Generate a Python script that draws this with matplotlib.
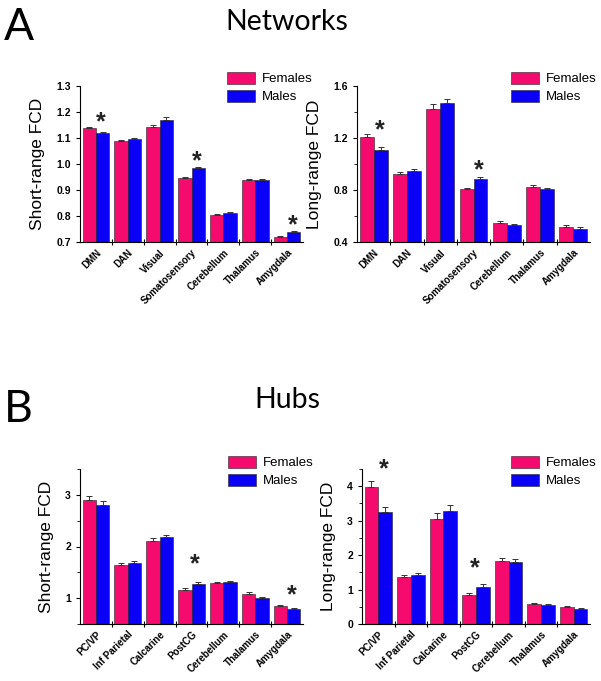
import matplotlib.pyplot as plt
import numpy as np
from matplotlib.ticker import MultipleLocator, FormatStrFormatter

plt.rcParams['font.family'] = ['Liberation Sans', 'DejaVu Sans']

net_labels = ['DMN', 'DAN', 'Visual', 'Somatosensory', 'Cerebellum', 'Thalamus', 'Amygdala']
hub_labels = ['PC/VP', 'Inf Parietal', 'Calcarine', 'PostCG', 'Cerebellum', 'Thalamus', 'Amygdala']

# Networks, short-range FCD
net_sr_f = [1.138, 1.088, 1.142, 0.946, 0.803, 0.937, 0.719]
net_sr_m = [1.118, 1.096, 1.170, 0.985, 0.811, 0.938, 0.740]
net_sr_fe = [0.004, 0.004, 0.009, 0.004, 0.005, 0.004, 0.004]
net_sr_me = [0.005, 0.004, 0.010, 0.005, 0.005, 0.004, 0.004]
# Networks, long-range FCD
net_lr_f = [1.208, 0.926, 1.426, 0.806, 0.546, 0.823, 0.515]
net_lr_m = [1.110, 0.949, 1.467, 0.887, 0.528, 0.805, 0.502]
net_lr_fe = [0.020, 0.012, 0.035, 0.012, 0.012, 0.012, 0.012]
net_lr_me = [0.020, 0.012, 0.035, 0.013, 0.013, 0.010, 0.015]
# Hubs, short-range FCD
hub_sr_f = [2.90, 1.65, 2.11, 1.16, 1.30, 1.08, 0.85]
hub_sr_m = [2.80, 1.68, 2.175, 1.27, 1.305, 1.00, 0.80]
hub_sr_fe = [0.08, 0.03, 0.05, 0.03, 0.02, 0.03, 0.01]
hub_sr_me = [0.08, 0.03, 0.05, 0.04, 0.02, 0.03, 0.01]
# Hubs, long-range FCD
hub_lr_f = [3.97, 1.375, 3.06, 0.84, 1.84, 0.58, 0.50]
hub_lr_m = [3.24, 1.433, 3.29, 1.085, 1.80, 0.54, 0.445]
hub_lr_fe = [0.17, 0.05, 0.15, 0.07, 0.07, 0.03, 0.02]
hub_lr_me = [0.15, 0.05, 0.17, 0.08, 0.08, 0.04, 0.02]

# significance stars: (category index, x offset, y)
net_sr_stars = [(0, 0.15, 1.16), (3, 0.15, 1.009), (6, 0.17, 0.765)]
net_lr_stars = [(0, 0.17, 1.26), (3, 0.15, 0.954)]
hub_sr_stars = [(3, 0.1, 1.66), (6, 0.16, 1.06)]
hub_lr_stars = [(0, 0.16, 4.48), (3, -0.03, 1.63)]

PINK = '#F50A6E'
BLUE = '#0A00F5'

W, H = 601, 681
fig = plt.figure(figsize=(W / 100, H / 100), dpi=100)


def box(x0, x1, ytop, ybot):
    return [x0 / W, 1 - ybot / H, (x1 - x0) / W, (ybot - ytop) / H]


def panel(rect, labels, f, m, fe, me, ylim, major, minor, fmt, ylabel, stars, leg_xy):
    ax = fig.add_axes(rect)
    x = np.arange(len(labels))
    bw = 0.42
    ekw = dict(ecolor='#333333', elinewidth=0.7, capsize=2.5, capthick=0.7)
    ax.bar(x - bw / 2, f, bw, yerr=[np.zeros(len(f)), fe], color=PINK,
           edgecolor='#222222', linewidth=0.4, error_kw=ekw, label='Females')
    ax.bar(x + bw / 2, m, bw, yerr=[np.zeros(len(m)), me], color=BLUE,
           edgecolor='#222222', linewidth=0.4, error_kw=ekw, label='Males')
    for i, dx, y in stars:
        ax.text(i + dx, y, '*', ha='center', va='center', fontsize=18,
                fontweight='bold', color='#222222')
    ax.set_xlim(-0.5, len(labels) - 0.5)
    ax.set_ylim(*ylim)
    ax.yaxis.set_major_locator(MultipleLocator(major))
    ax.yaxis.set_minor_locator(MultipleLocator(minor))
    ax.yaxis.set_major_formatter(FormatStrFormatter(fmt))
    ax.set_xticks(x)
    ax.set_xticklabels(labels, rotation=45, ha='right', rotation_mode='anchor',
                       fontsize=7, fontweight='bold')
    ax.set_xticks(np.arange(0.5, len(labels) - 0.5), minor=True)
    ax.tick_params(axis='x', which='major', length=0, pad=4)
    ax.tick_params(axis='x', which='minor', length=4, direction='inout', width=0.8)
    ax.tick_params(axis='y', which='major', length=3, width=0.8, labelsize=7.5)
    ax.tick_params(axis='y', which='minor', length=2, width=0.6)
    for lbl in ax.get_yticklabels():
        lbl.set_fontweight('bold')
    for s in ['top', 'right']:
        ax.spines[s].set_visible(False)
    for s in ['left', 'bottom']:
        ax.spines[s].set_linewidth(0.8)
    ax.set_ylabel(ylabel, fontsize=12.5, labelpad=8)
    ax.legend(loc='upper left', bbox_to_anchor=(leg_xy[0] / W, 1 - leg_xy[1] / H),
              bbox_transform=fig.transFigure, frameon=False, fontsize=9.5,
              handlelength=2.1, handleheight=1.0, labelspacing=0.35,
              handletextpad=0.55, borderpad=0, borderaxespad=0)
    return ax


panel(box(80, 303, 86, 242), net_labels, net_sr_f, net_sr_m, net_sr_fe, net_sr_me,
      (0.7, 1.3), 0.1, 0.1, '%.1f', 'Short-range FCD', net_sr_stars, (227, 72))
panel(box(357, 590, 86, 242), net_labels, net_lr_f, net_lr_m, net_lr_fe, net_lr_me,
      (0.4, 1.6), 0.4, 0.2, '%.1f', 'Long-range FCD', net_lr_stars, (511, 72))
panel(box(80, 303, 469, 624), hub_labels, hub_sr_f, hub_sr_m, hub_sr_fe, hub_sr_me,
      (0.5, 3.5), 1, 0.5, '%d', 'Short-range FCD', hub_sr_stars, (228, 456))
panel(box(362, 590, 469, 624), hub_labels, hub_lr_f, hub_lr_m, hub_lr_fe, hub_lr_me,
      (0, 4.5), 1, 0.5, '%d', 'Long-range FCD', hub_lr_stars, (511, 456))

tfont = ['Lato', 'DejaVu Sans']
fig.text(287 / W, 1 - 22 / H, 'Networks', ha='center', va='center', fontsize=20.5, family=tfont)
fig.text(287 / W, 1 - 400 / H, 'Hubs', ha='center', va='center', fontsize=20.5, family=tfont)
fig.text(4 / W, 1 - 28 / H, 'A', ha='left', va='center', fontsize=32, family=tfont)
fig.text(4 / W, 1 - 410 / H, 'B', ha='left', va='center', fontsize=32, family=tfont)

fig.savefig('out.png', dpi=100)
